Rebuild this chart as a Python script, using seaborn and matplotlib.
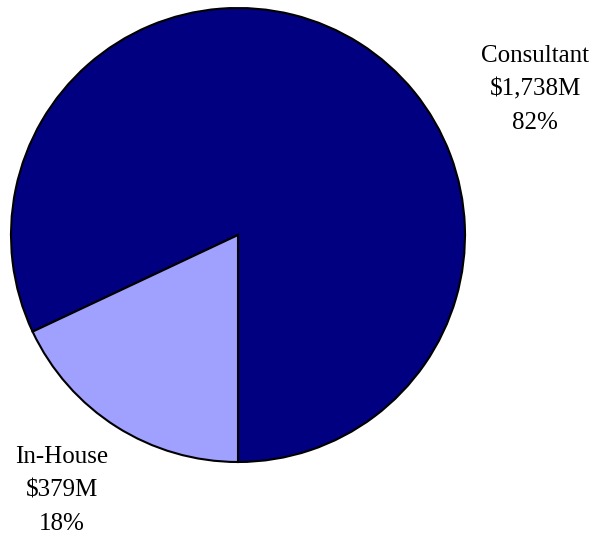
import matplotlib
matplotlib.use("Agg")
import matplotlib.pyplot as plt
import seaborn as sns

categories = ["Consultant", "In-House"]
amounts = ["$1,738M", "$379M"]
values = [82, 18]
colors = ["#000080", "#A0A0FF"]
label_pos = [(1.31, 0.64), (-0.775, -1.125)]

sns.set_theme(style="white")
plt.rcParams['font.family'] = ['Liberation Serif', 'DejaVu Serif']

W, H = 599, 539
fig = plt.figure(figsize=(W / 100, H / 100), dpi=100)
cx, cy, r = 238, 235, 227
ax = fig.add_axes([(cx - r) / W, (H - cy - r) / H, 2 * r / W, 2 * r / H])

wedges, _ = ax.pie(values, colors=colors, startangle=270, counterclock=True,
                   wedgeprops=dict(edgecolor="black", linewidth=1.5),
                   radius=1.0)
ax.set_xlim(-1, 1)
ax.set_ylim(-1, 1)
ax.set_aspect("equal")
ax.axis("off")

for cat, amt, v, (x, y) in zip(categories, amounts, values, label_pos):
    ax.text(x, y, f"{cat}\n{amt}\n{v}%", ha="center", va="center",
            fontsize=18, color="black", linespacing=1.68, clip_on=False)

fig.savefig("out.png", dpi=100, facecolor="white")
